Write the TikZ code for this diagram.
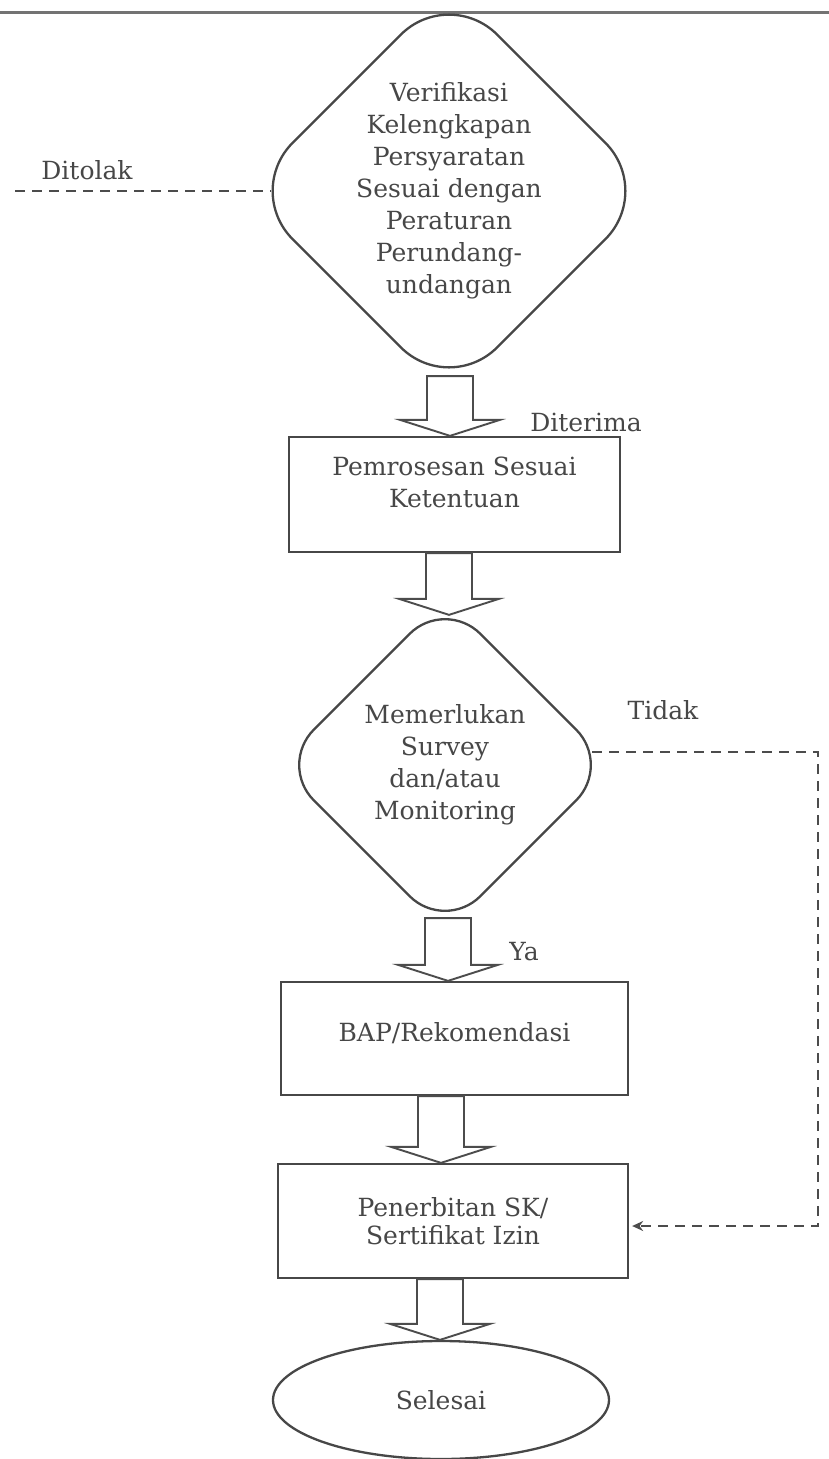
\documentclass[tikz,border=0pt]{standalone}
\usepackage{fontspec}
\setmainfont{DejaVu Serif}
\usetikzlibrary{shapes.geometric,calc,arrows.meta}
\newcommand{\blockarrow}[3]{%
  \draw[barrow] let \p1=#2, \p2=#3 in
   ({#1pt-23pt},\y1) -- ({#1pt+23pt},\y1) -- ({#1pt+23pt},\y2+16pt)
   -- ({#1pt+50pt},\y2+16pt) -- (#1pt,\y2) -- ({#1pt-50pt},\y2+16pt)
   -- ({#1pt-23pt},\y2+16pt) -- cycle;}
\tikzset{
  txt/.style={text=black!72, font=\fontsize{25}{32}\selectfont, align=center, inner sep=0pt},
  outl/.style={draw=black!72, line width=2.3pt},
  box/.style={outl, rectangle, inner sep=0pt, txt},
  dec/.style={outl, diamond, inner sep=0pt},
  barrow/.style={draw=black!70, line width=1.9pt, fill=white, line join=miter},
  dashline/.style={draw=black!70, line width=2.5pt, dash pattern=on 10pt off 7pt},
}
\begin{document}
\begin{tikzpicture}[x=1pt, y=-1pt]
\useasboundingbox (0,0) rectangle (829,1459);
\fill[white] (0,0) rectangle (829,1459);
% page rule
\draw[black!55, line width=3pt] (0,12) -- (829,12);

% nodes
\node[dec, minimum width=410pt, minimum height=410pt, rounded corners=68pt,
  label={[txt]center:Verifikasi\\Kelengkapan\\Persyaratan\\Sesuai dengan\\Peraturan\\Perundang-\\undangan}]
  (d1) at (449,191) {};
\node[box, minimum width=331pt, minimum height=115pt,
  label={[txt, yshift=12pt]center:Pemrosesan Sesuai\\Ketentuan}] (b1) at (454.5,494.5) {};
\node[dec, minimum width=334pt, minimum height=334pt, rounded corners=50pt,
  label={[txt]center:Memerlukan\\Survey\\dan/atau\\Monitoring}]
  (d2) at (445,765) {};
\node[box, minimum width=347pt, minimum height=113pt,
  label={[txt, yshift=5pt]center:BAP/Rekomendasi}] (b2) at (454.5,1038.5) {};
\node[box, minimum width=350pt, minimum height=114pt, font=\fontsize{25}{28}\selectfont] (b3) at (453,1221) {Penerbitan SK/\\Sertifikat Izin};
\node[outl, ellipse, minimum width=336pt, minimum height=118pt, txt] (e) at (441,1400) {Selesai};

% labels
\node[txt] (ditolak) at (87,170) {Ditolak};
\node[txt] (diterima) at (586,422) {Diterima};
\node[txt] (tidak) at (663,710) {Tidak};
\node[txt] (ya) at (524,952) {Ya};

% block arrows
\blockarrow{450}{($(d1.south)+(0pt,21pt)$)}{(b1.north)}
\blockarrow{449}{(b1.south)}{($(d2.north)+(0pt,-18pt)$)}
\blockarrow{448}{($(d2.south)+(0pt,15pt)$)}{(b2.north)}
\blockarrow{441}{(b2.south)}{(b3.north)}
\blockarrow{440}{(b3.south)}{(e.north)}

% dashed connectors
\coordinate (tl) at (15,191);
\coordinate (rx) at (818,0);
\coordinate (d1in) at ($(d1.west)+(28pt,0pt)$);
\coordinate (d2out) at ($(d2.east)+(-21pt,13pt)$);
\coordinate (b3in) at ($(b3.east)+(0pt,-5pt)$);
\draw[dashline] (tl) -- (d1in);
\draw[dashline, -{Stealth[length=11pt,width=10pt]}, shorten >=3pt]
  (d2out) -- (d2out -| rx) -- (rx |- b3in) -- (b3in);
\end{tikzpicture}
\end{document}
